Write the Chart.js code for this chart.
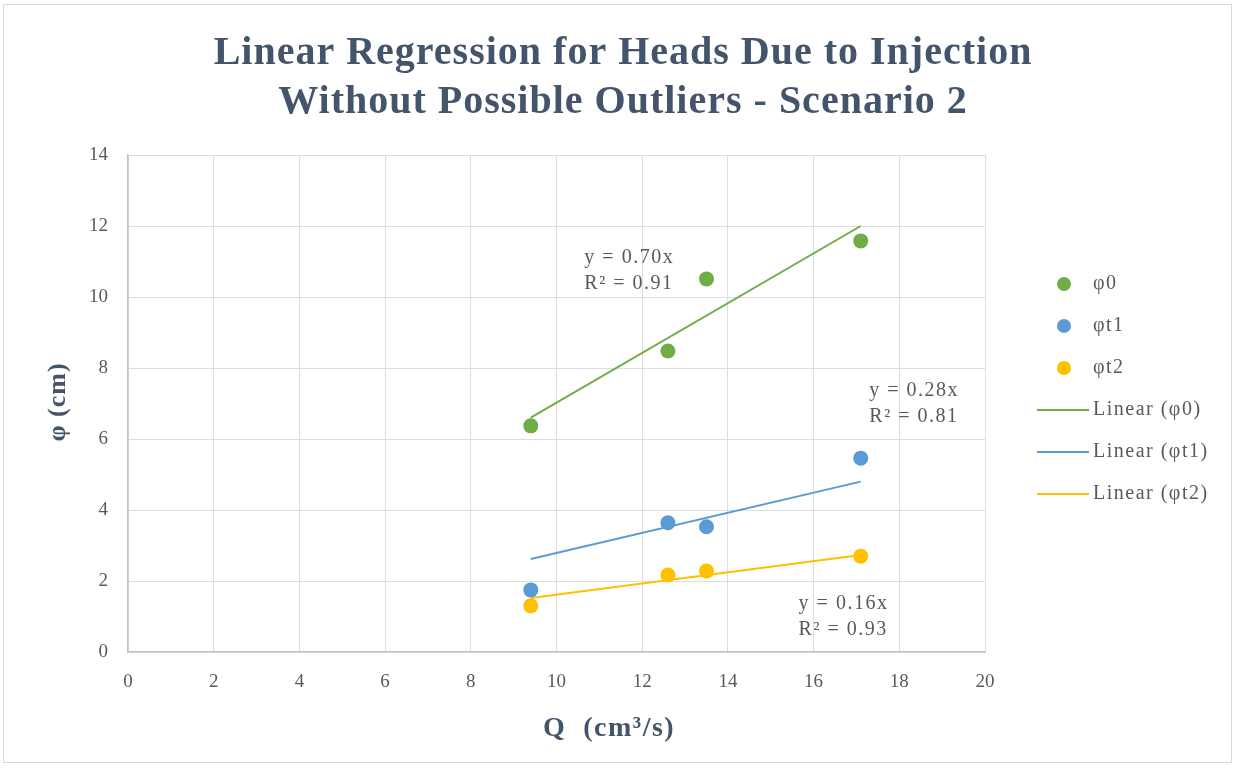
<!DOCTYPE html>
<html>
<head>
<meta charset="utf-8">
<script src="https://cdn.jsdelivr.net/npm/chart.js@4.4.1/dist/chart.umd.min.js"></script>
<style>
html,body{margin:0;padding:0;background:#fff;}
#wrap{position:relative;width:1235px;height:768px;}
</style>
</head>
<body>
<div id="wrap"><canvas id="c" width="1235" height="768"></canvas></div>
<script>
// ---- data ----
const seriesNames = ['φ0', 'φt1', 'φt2'];
const qValues = [9.4, 12.6, 13.5, 17.1];
const phi0 = [6.37, 8.48, 10.51, 11.58];
const phiT1 = [1.75, 3.64, 3.53, 5.46];
const phiT2 = [1.30, 2.17, 2.28, 2.70];
// trendline end points (read at x = first and last Q)
const trendX = [9.4, 17.1];
const trend0 = [6.6, 12.0];
const trendT1 = [2.62, 4.8];
const trendT2 = [1.52, 2.73];
const trendNames = ['Linear (φ0)', 'Linear (φt1)', 'Linear (φt2)'];
const equations = [['y = 0.70x', 'R² = 0.91'], ['y = 0.28x', 'R² = 0.81'], ['y = 0.16x', 'R² = 0.93']];
const xTicks = [0, 2, 4, 6, 8, 10, 12, 14, 16, 18, 20];
const yTicks = [0, 2, 4, 6, 8, 10, 12, 14];
const titleLines = ['Linear Regression for Heads Due to Injection', 'Without Possible Outliers - Scenario 2'];
const xTitle = 'Q  (cm³/s)';
const yTitle = 'φ (cm)';

// ---- styling / placement ----
const colors = ['#70AD47', '#5B9BD5', '#FFC000'];
const serif = '"Liberation Serif", "Times New Roman", serif';
const textGray = '#595959';
const titleColor = '#44546A';
// equation label anchors in data units (left x, y of first line)
const eqAnchors = [[10.65, 11.1], [17.3, 7.35], [15.65, 1.35]];

const pts = (xs, ys) => xs.map((x, i) => ({x: x, y: ys[i]}));
const scatterData = [phi0, phiT1, phiT2];
const trendData = [trend0, trendT1, trendT2];

const datasets = [];
scatterData.forEach((ys, i) => {
  datasets.push({
    type: 'scatter', label: seriesNames[i], data: pts(qValues, ys),
    backgroundColor: colors[i], borderColor: colors[i], pointRadius: 7.5, pointHoverRadius: 7.5, borderWidth: 0, order: 1
  });
});
trendData.forEach((ys, i) => {
  datasets.push({
    type: 'line', label: trendNames[i], data: pts(trendX, ys),
    borderColor: colors[i], backgroundColor: colors[i], borderWidth: 2, pointRadius: 0, fill: false, order: 2
  });
});

const overlay = {
  id: 'overlay',
  beforeDraw(chart) {
    const ctx = chart.ctx;
    ctx.save();
    ctx.fillStyle = '#fff';
    ctx.fillRect(0, 0, chart.width, chart.height);
    ctx.strokeStyle = '#d9d9d9';
    ctx.lineWidth = 1;
    ctx.strokeRect(3.5, 4.5, 1228, 758);
    ctx.restore();
  },
  afterDraw(chart) {
    const ctx = chart.ctx;
    const xs = chart.scales.x, ys = chart.scales.y;
    ctx.save();
    // title
    ctx.fillStyle = titleColor;
    ctx.font = 'bold 40px ' + serif;
    ctx.letterSpacing = '1px';
    ctx.textAlign = 'center';
    ctx.textBaseline = 'alphabetic';
    ctx.fillText(titleLines[0], 623, 64);
    ctx.fillText(titleLines[1], 623, 113);
    // axis titles
    ctx.font = 'bold 28px ' + serif;
    ctx.letterSpacing = '1.5px';
    ctx.fillText(xTitle, 609, 736);
    ctx.save();
    ctx.translate(65, 402);
    ctx.rotate(-Math.PI / 2);
    ctx.font = 'bold 26px ' + serif;
    ctx.letterSpacing = '1px';
    ctx.fillText(yTitle, 0, 0);
    ctx.restore();
    // equations
    ctx.font = '20px ' + serif;
    ctx.letterSpacing = '1.5px';
    ctx.fillStyle = textGray;
    ctx.textAlign = 'left';
    ctx.textBaseline = 'middle';
    equations.forEach((eq, i) => {
      const px = xs.getPixelForValue(eqAnchors[i][0]);
      const py = ys.getPixelForValue(eqAnchors[i][1]);
      ctx.fillText(eq[0], px, py);
      ctx.fillText(eq[1], px, py + 26);
    });
    // legend
    const rowY = [284, 326, 368, 410, 452, 494];
    ctx.font = '20px ' + serif;
    ctx.letterSpacing = '1.5px';
    chart.data.datasets.forEach((ds, i) => {
      const y = rowY[i];
      if (ds.type === 'scatter') {
        ctx.fillStyle = ds.backgroundColor;
        ctx.beginPath();
        ctx.arc(1064, y, 7, 0, Math.PI * 2);
        ctx.fill();
      } else {
        ctx.strokeStyle = ds.borderColor;
        ctx.lineWidth = 2;
        ctx.beginPath();
        ctx.moveTo(1037, y);
        ctx.lineTo(1089, y);
        ctx.stroke();
      }
      ctx.fillStyle = textGray;
      ctx.fillText(ds.label, 1093, y);
    });
    ctx.letterSpacing = '0px';
    ctx.restore();
  }
};

new Chart(document.getElementById('c'), {
  data: { datasets: datasets },
  options: {
    responsive: false,
    animation: false,
    events: [],
    layout: { padding: { left: 0, top: 155, right: 250, bottom: 0 } },
    plugins: { legend: { display: false }, title: { display: false }, tooltip: { enabled: false } },
    scales: {
      x: {
        type: 'linear', min: 0, max: 20,
        afterFit(s) { s.height = 116; },
        afterBuildTicks(s) { s.ticks = xTicks.map(v => ({value: v})); },
        grid: { color: '#dadde2', lineWidth: 1, drawTicks: false },
        border: { color: '#bfc3c9', width: 1.5 },
        ticks: { color: textGray, font: { family: serif, size: 19 }, padding: 19 }
      },
      y: {
        type: 'linear', min: 0, max: 14,
        afterFit(s) { s.width = 128; },
        afterBuildTicks(s) { s.ticks = yTicks.map(v => ({value: v})); },
        grid: { color: '#dadde2', lineWidth: 1, drawTicks: false },
        border: { color: '#bfc3c9', width: 1.5 },
        ticks: { color: textGray, font: { family: serif, size: 19 }, padding: 20 }
      }
    }
  },
  plugins: [overlay]
});
</script>
</body>
</html>
